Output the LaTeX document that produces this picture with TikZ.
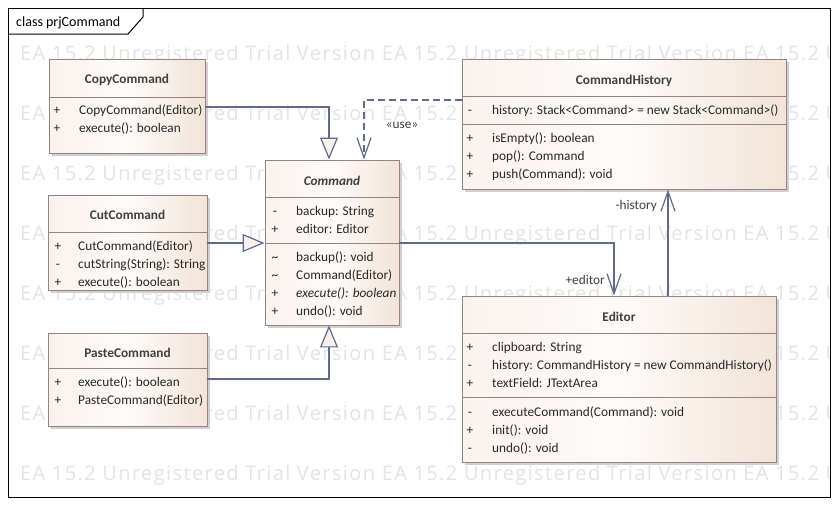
\documentclass[tikz,border=0pt]{standalone}
\usepackage{fontspec}
\setmainfont{Carlito}
\newfontfamily\wmfont[LetterSpace=7]{Open Sans}
\usepackage{tikz}
\usetikzlibrary{arrows.meta}
\tikzset{>=latex}
\definecolor{boxc}{RGB}{155,130,130}
\definecolor{fillL}{RGB}{250,242,238}
\definecolor{fillM}{RGB}{253,251,249}
\definecolor{fillR}{RGB}{242,228,216}
\definecolor{shadowc}{RGB}{208,208,208}
\definecolor{linec}{RGB}{96,106,140}
\definecolor{headc}{RGB}{248,240,234}
\definecolor{namec}{RGB}{64,64,64}
\definecolor{memc}{RGB}{40,40,40}
\definecolor{wmc}{RGB}{228,228,228}
\tikzset{
	box/.style={draw=boxc, line width=.9pt, left color=fillL, right color=fillR, middle color=fillM, inner sep=0pt},
	boxline/.style={draw=boxc, line width=.9pt},
	cname/.style={anchor=base, inner sep=0pt, text=namec, font=\fontsize{13.3}{16}\selectfont\bfseries},
	vis/.style={anchor=base, inner sep=0pt, text=memc},
	mem/.style={anchor=base west, inner sep=0pt, text=memc},
	lbl/.style={inner sep=0pt, text=namec},
	gen/.style={draw=linec, line width=1.2pt, -{Triangle[open, length=22pt, width=18pt, fill=headc]}},
	assoc/.style={draw=linec, line width=1.2pt, -{Straight Barb[length=20pt, width=14pt]}},
	dep/.style={assoc, dash pattern=on 7pt off 4pt},
	wmark/.style={anchor=base west, inner sep=0pt, text=wmc, font=\wmfont\fontsize{20}{20}\selectfont},
	frame/.style={draw=black, line width=1pt}
}
% name, left, top, right, bottom
\newcommand{\classbox}[5]{
	\fill[shadowc] (#2+3, #3+3) rectangle (#4+3, #5+3);
	\node[box, minimum width={(#4-#2)*1pt}, minimum height={(#5-#3)*1pt}] (#1) at ({(#2+#4)/2}, {(#3+#5)/2}) {}
}
\newcommand{\sepline}[2]{
	\draw[boxline] (#1.west |- 0, #2) -- (#1.east |- 0, #2)
}
\newcommand{\wmtext}{EA 15.2 Unregistered Trial Version}

\begin{document}
\fontsize{13.3}{16}\selectfont
\begin{tikzpicture}[x=1pt, y=-1pt]
    \useasboundingbox (0, 0) rectangle (838, 506);
    \fill[white] (0, 0) rectangle (838, 506);
    % watermark
    \begin{scope}
        \clip (8, 8) rectangle (830, 497);
        \foreach \r in {0,...,7}
            \node[wmark] (wm-\r) at (20, 60+60*\r) {\wmtext{} \wmtext{} \wmtext};
    \end{scope}
    \draw[frame] (8, 8) rectangle (830, 497);
    \draw[frame] (8, 34)--(128, 34)--(143, 17)--(143, 8);
    \node[anchor=base west, inner sep=0pt, font=\fontsize{14}{14}\selectfont] (title) at (16, 26) {class prjCommand};

    \classbox{copy}{49}{59}{205}{153};
    \sepline{copy}{97};
    \node[cname] (copy-n) at (copy.north |- 0, 83) {CopyCommand};
    \foreach \y/\v/\t [count=\i] in {114/+/CopyCommand(Editor), 132/+/execute(): boolean}{
        \node[vis] (copy-v\i) at (57, \y) {\v};
        \node[mem] (copy-m\i) at (79, \y) {\t};
    }

    \classbox{cut}{48}{195}{207}{290};
    \sepline{cut}{232};
    \node[cname] (cut-n) at (cut.north |- 0, 219) {CutCommand};
    \foreach \y/\v/\t [count=\i] in {250/+/CutCommand(Editor), 268/-/cutString(String): String, 286/+/execute(): boolean}{
        \node[vis] (cut-v\i) at (58, \y) {\v};
        \node[mem] (cut-m\i) at (78, \y) {\t};
    }

    \classbox{paste}{48}{333}{207}{426};
    \sepline{paste}{368};
    \node[cname] (paste-n) at (paste.north |- 0, 357) {PasteCommand};
    \foreach \y/\v/\t [count=\i] in {386/+/execute(): boolean, 404/+/PasteCommand(Editor)}{
        \node[vis] (paste-v\i) at (58, \y) {\v};
        \node[mem] (paste-m\i) at (78, \y) {\t};
    }

    \classbox{cmd}{265}{160}{399}{325};
    \sepline{cmd}{197};
    \sepline{cmd}{243};
    \node[cname, font=\fontsize{13.3}{16}\selectfont\bfseries\itshape] (cmd-n) at (cmd.north |- 0, 185) {Command};
    \foreach \y/\v/\t [count=\i] in {215/-/backup: String, 233/+/editor: Editor, 261/\textasciitilde/backup(): void,
        279/\textasciitilde/Command(Editor), 297/+/\textit{execute(): boolean}, 315/+/undo(): void}{
        \node[vis] (cmd-v\i) at (275, \y) {\v};
        \node[mem] (cmd-m\i) at (296, \y) {\t};
    }

    \classbox{hist}{462}{59}{786}{189};
    \sepline{hist}{96};
    \sepline{hist}{124};
    \node[cname] (hist-n) at (hist.north |- 0, 84) {CommandHistory};
    \foreach \y/\v/\t [count=\i] in {114/-/history: Stack<Command> = new Stack<Command>(), 142/+/isEmpty(): boolean,
        160/+/pop(): Command, 178/+/push(Command): void}{
        \node[vis] (hist-v\i) at (470, \y) {\v};
        \node[mem] (hist-m\i) at (492, \y) {\t};
    }

    \classbox{editor}{462}{296}{776}{462};
    \sepline{editor}{333};
    \sepline{editor}{397};
    \node[cname] (editor-n) at (editor.north |- 0, 321) {Editor};
    \foreach \y/\v/\t [count=\i] in {351/+/clipboard: String, 369/-/history: CommandHistory = new CommandHistory(),
        387/+/textField: JTextArea, 416/-/executeCommand(Command): void, 434/+/init(): void, 452/-/undo(): void}{
        \node[vis] (editor-v\i) at (470, \y) {\v};
        \node[mem] (editor-m\i) at (492, \y) {\t};
    }

    % connectors
    \draw[gen](copy.east |- 0, 107)-|(cmd.north -| 329, 0);
    \draw[gen](cut.east |- 0, 243)--(cmd.west |- 0, 243);
    \draw[gen](paste.east |- 0, 379)-|(cmd.south -| 329, 0);
    \draw[dep](hist.west |- 0, 100)-|(cmd.north -| 364, 0);
    \node[lbl, anchor=base] (use) at (402, 128) {«use»};
    \draw[assoc](cmd.east |- 0, 243)-|(editor.north -| 614, 0);
    \node[lbl, anchor=base east] (editor-r) at (605, 284) {+editor};
    \draw[assoc](editor.north -| 668, 0)--(hist.south -| 668, 0);
    \node[lbl, anchor=base east] (hist-r) at (657, 209) {-history};
\end{tikzpicture}
\end{document}
